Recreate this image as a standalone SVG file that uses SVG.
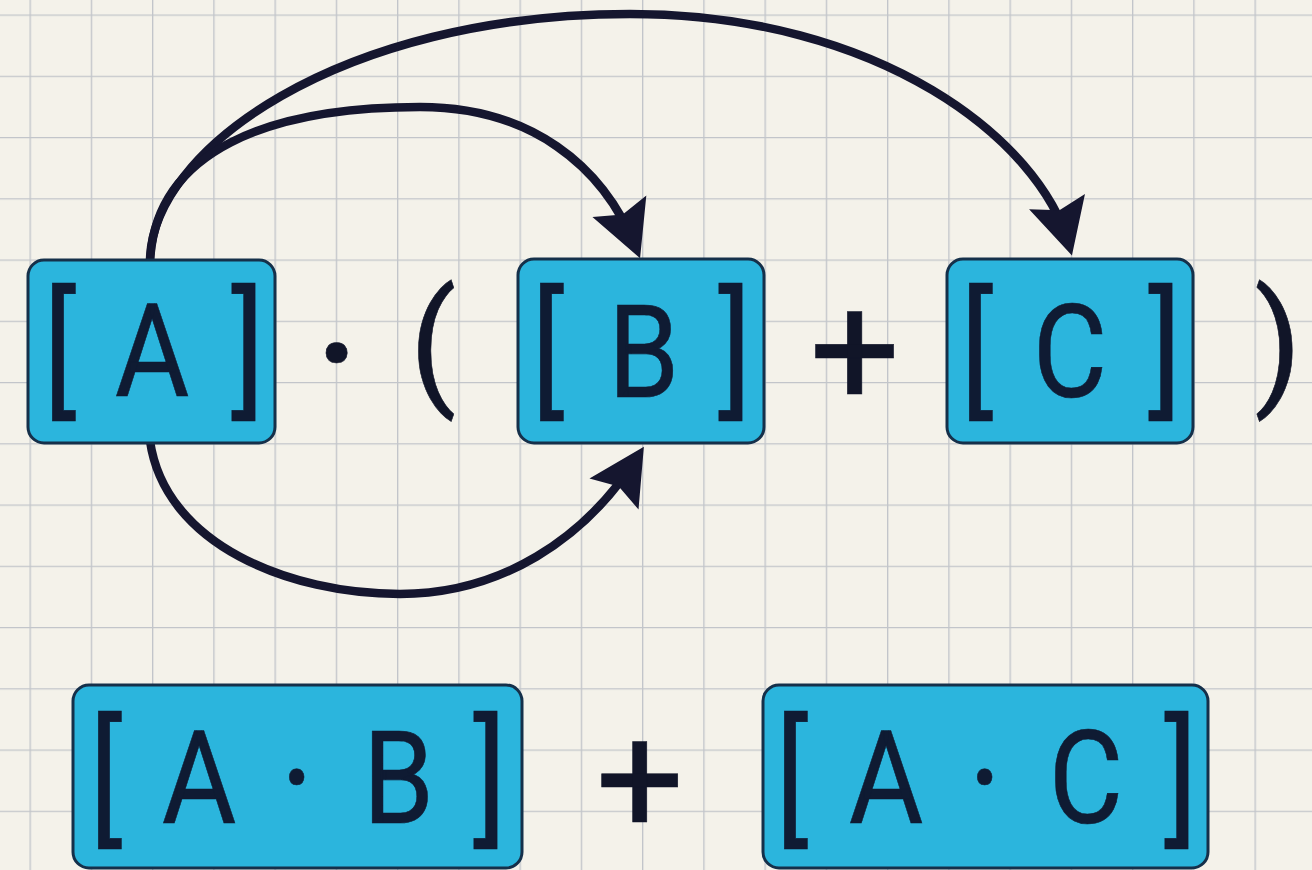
<svg xmlns="http://www.w3.org/2000/svg" width="1312" height="870" viewBox="0 0 1312 870">
  <defs>
    <pattern id="grid" patternUnits="userSpaceOnUse" x="29.5" y="14.5" width="61.25" height="61.25">
      <path d="M0.5,0 V61.25 M0,0.5 H61.25" fill="none" stroke="#c2c5ca" stroke-width="1.7"/>
    </pattern>
    <marker id="arrow" markerUnits="userSpaceOnUse" viewBox="-50 -32 64 64" refX="0" refY="0" markerWidth="64" markerHeight="64" orient="auto">
      <path d="M11,0 L-45,-29 L-36,0 L-45,29 Z" fill="#15162f"/>
    </marker>
    <style>
      .box { fill: #2bb5dd; stroke: #15304a; stroke-width: 3; }
      .t { font-family: Roboto, "Liberation Sans", sans-serif; fill: #0f1b33; stroke: #0f1b33; stroke-width: 0.6; text-anchor: middle; font-size: 130px; }
      .br { font-size: 143px; }
      .op { font-family: Roboto, "Liberation Sans", sans-serif; fill: #111528; stroke: #111528; stroke-width: 0.6; text-anchor: middle; }
      .conn { fill: none; stroke: #15162f; stroke-width: 8.5; stroke-linecap: round; marker-end: url(#arrow); }
    </style>
  </defs>
  <rect width="1312" height="870" fill="#f4f2ea"/>
  <rect width="1312" height="870" fill="url(#grid)"/>

  <g id="connectors">
    <path class="conn" d="M150,262 C150,150 340,14 630,14 C880,14 1040,140 1069,245"/>
    <path class="conn" d="M150,262 C155,150 270,107 420,107 C530,107 603,165 636,248"/>
    <path class="conn" d="M150,441 C165,545 290,594 400,594 C500,594 585,540 638,456"/>
  </g>

  <g id="nodeA">
    <rect class="box" x="28" y="260" width="247" height="183" rx="16"/>
    <text class="t" transform="scale(0.88,1)"><tspan class="br" x="68.2" y="399">[</tspan><tspan x="172.7" y="396">A</tspan><tspan class="br" x="281.8" y="399">]</tspan></text>
  </g>
  <g id="op-dot">
    <text class="op" x="337" y="420" font-size="190">·</text>
  </g>
  <g id="op-lparen">
    <text class="op" x="433" y="390" font-size="137">(</text>
  </g>
  <g id="nodeB">
    <rect class="box" x="518" y="259" width="246" height="184" rx="16"/>
    <text class="t" transform="scale(0.88,1)"><tspan class="br" x="622.7" y="399">[</tspan><tspan x="731.3" y="397">B</tspan><tspan class="br" x="835.2" y="399">]</tspan></text>
  </g>
  <g id="op-plus1">
    <text class="op" x="855" y="405" font-size="160">+</text>
  </g>
  <g id="nodeC">
    <rect class="box" x="947" y="259" width="246" height="184" rx="16"/>
    <text class="t" transform="scale(0.88,1)"><tspan class="br" x="1110.2" y="399">[</tspan><tspan x="1215.9" y="397">C</tspan><tspan class="br" x="1323.9" y="399">]</tspan></text>
  </g>
  <g id="op-rparen">
    <text class="op" x="1278" y="390" font-size="137">)</text>
  </g>

  <g id="nodeAB">
    <rect class="box" x="73" y="685" width="449" height="183" rx="16"/>
    <text class="t" transform="scale(0.88,1)"><tspan class="br" x="120.5" y="827">[</tspan><tspan x="226.1" y="823">A</tspan><tspan x="337.5" y="831" font-size="150">·</tspan><tspan x="452.8" y="823">B</tspan><tspan class="br" x="556.8" y="827">]</tspan></text>
  </g>
  <g id="op-plus2">
    <text class="op" x="640" y="833" font-size="156">+</text>
  </g>
  <g id="nodeAC">
    <rect class="box" x="763" y="685" width="445" height="183" rx="16"/>
    <text class="t" transform="scale(0.88,1)"><tspan class="br" x="900" y="827">[</tspan><tspan x="1006.8" y="823">A</tspan><tspan x="1119.3" y="831" font-size="150">·</tspan><tspan x="1234.1" y="823">C</tspan><tspan class="br" x="1342" y="827">]</tspan></text>
  </g>
</svg>
